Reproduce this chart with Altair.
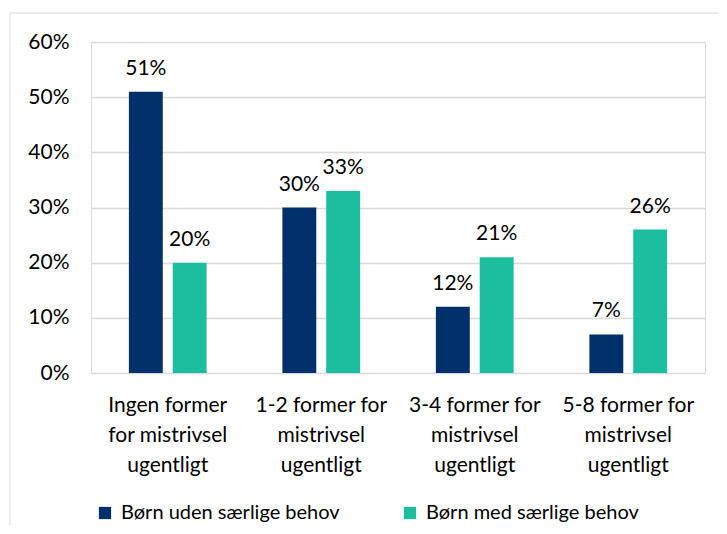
import altair as alt
import pandas as pd

categories = ["Ingen former|for mistrivsel|ugentligt",
              "1-2 former for|mistrivsel|ugentligt",
              "3-4 former for|mistrivsel|ugentligt",
              "5-8 former for|mistrivsel|ugentligt"]
series = ["Børn uden særlige behov", "Børn med særlige behov"]
uden = [51, 30, 12, 7]
med = [20, 33, 21, 26]
colors = ["#003069", "#1BBE9E"]

rows = []
for c, a, b in zip(categories, uden, med):
    rows.append({"cat": c, "serie": series[0], "val": a / 100})
    rows.append({"cat": c, "serie": series[1], "val": b / 100})
df = pd.DataFrame(rows)

FONT = "Lato"
FS = 21

x = alt.X("cat:N", sort=categories, title=None,
          scale=alt.Scale(paddingInner=0, paddingOuter=0),
          axis=alt.Axis(labelExpr="split(datum.value, '|')", labelAngle=0,
                        labelFontSize=FS, labelColor="#000000", labelFont=FONT,
                        labelLineHeight=30, labelPadding=21, ticks=False,
                        domain=False, labelBaseline="top", labelLimit=0))
xo = alt.XOffset("serie:N", sort=series,
                 scale=alt.Scale(paddingInner=0.227, paddingOuter=0.864))

base = alt.Chart(df)

border = alt.Chart(pd.DataFrame({"a": [0]})).mark_rect(
    fill=None, stroke="#d9d9d9", strokeWidth=1
).encode(x=alt.value(-81), x2=alt.value(700), y=alt.value(-29), y2=alt.value(600))

bars = base.mark_bar().encode(
    x=x, xOffset=xo,
    y=alt.Y("val:Q", title=None,
            scale=alt.Scale(domain=[0, 0.6]),
            axis=alt.Axis(format=".0%", values=[0, 0.1, 0.2, 0.3, 0.4, 0.5, 0.6],
                          labelFontSize=FS, labelColor="#000000", labelFont=FONT,
                          labelPadding=22, ticks=False, domain=False,
                          gridColor="#d9d9d9", gridWidth=1.3)),
    color=alt.Color("serie:N", sort=series,
                    scale=alt.Scale(domain=series, range=colors),
                    legend=alt.Legend(title=None, orient="none", direction="horizontal",
                                      legendX=4, legendY=461,
                                      symbolType="square", symbolSize=150,
                                      symbolStrokeWidth=0, symbolOpacity=1,
                                      labelFontSize=20, labelFont=FONT, labelLimit=0,
                                      labelColor="#000000", columnPadding=60,
                                      labelOffset=6))
)

labels = base.mark_text(dy=-13, baseline="bottom", fontSize=FS, font=FONT,
                        color="#000000").encode(
    x=x, xOffset=xo, y="val:Q",
    text=alt.Text("val:Q", format=".0%")
)

chart = alt.layer(border, bars, labels).properties(
    width=614, height=331,
    autosize=alt.AutoSizeParams(type="none"),
    padding={"left": 83, "top": 34, "right": 14, "bottom": 152}
).configure_view(stroke=None).configure(background="white")

chart.save("out.html", embed_options={"renderer": "svg", "actions": False})
